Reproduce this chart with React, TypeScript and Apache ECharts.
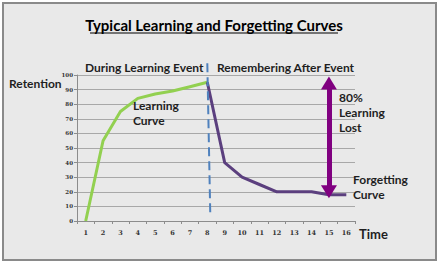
import React, { useEffect, useRef } from "react";
import * as echarts from "echarts";

const categories = ["1","2","3","4","5","6","7","8","9","10","11","12","13","14","15","16"];
const learningCurve = [0, 55, 75, 84, 87, 89, 92, 95, "-", "-", "-", "-", "-", "-", "-", "-"];
const forgettingCurve = ["-", "-", "-", "-", "-", "-", "-", 95, 40, 30, 25, 20, 20, 20, 18, 18];
const yTicks = { min: 0, max: 100, interval: 10 };
const dividerAt = "8";
const dividerSpan = [108, 3];
const lostArrowAt = "15";
const lostArrowSpan = [94.5, 20];

const FONT = "Lato";

export default function App() {
  const ref = useRef<HTMLDivElement>(null);
  useEffect(() => {
    document.body.style.margin = "0";
    const chart = echarts.init(ref.current!, null, { renderer: "svg" });
    const txt = (x: number, y: number, text: string, size: number, extra: any = {}) => ({
      type: "text",
      x,
      y,
      z: 10,
      style: {
        text,
        fontFamily: FONT,
        fontWeight: "bold",
        fontSize: size,
        fill: "#1f1f1f",
        textVerticalAlign: "middle",
        lineHeight: 15,
        ...extra,
      },
    });
    const graphics: any[] = [
      {
        type: "rect",
        z: -100,
        shape: { x: 3, y: 3, width: 433, height: 257 },
        style: { fill: "#e9e9e9", stroke: "#8a8a8a", lineWidth: 2 },
      },
      txt(214, 25, "Typical Learning and Forgetting Curves", 15, { textAlign: "center", fill: "#000" }),
      {
        type: "line",
        z: 10,
        shape: { x1: 90, y1: 33, x2: 338, y2: 33 },
        style: { stroke: "#000", lineWidth: 1.2 },
      },
      txt(85, 67, "During Learning Event", 12),
      txt(217, 67, "Remembering After Event", 12),
      txt(9, 83, "Retention", 12),
      txt(359, 234, "Time", 13),
      txt(133, 113, "Learning\nCurve", 12),
      txt(339, 112, "80%\nLearning\nLost", 12),
      txt(353, 187, "Forgetting\nCurve", 12),
    ];
    chart.setOption({
      animation: false,
      backgroundColor: "#ffffff",
      grid: { left: 77, right: 84, top: 75, bottom: 42 },
      xAxis: {
        type: "category",
        data: categories,
        boundaryGap: true,
        axisLine: { lineStyle: { color: "#8c8c8c", width: 1 } },
        axisTick: { show: true, length: 3, lineStyle: { color: "#8c8c8c" } },
        axisLabel: { fontSize: 6.5, color: "#333", margin: 8, fontFamily: "DejaVu Serif", fontWeight: "bold" },
      },
      yAxis: {
        type: "value",
        min: yTicks.min,
        max: yTicks.max,
        interval: yTicks.interval,
        axisLine: { show: true, lineStyle: { color: "#8c8c8c", width: 1 } },
        axisTick: { show: true, length: 3, lineStyle: { color: "#8c8c8c" } },
        axisLabel: { fontSize: 5.5, color: "#333", margin: 4, fontFamily: "DejaVu Serif", fontWeight: "bold" },
        splitLine: { lineStyle: { color: "#a8a8a8", width: 1 } },
      },
      graphic: graphics,
      series: [
        {
          name: "Learning",
          type: "line",
          data: learningCurve,
          symbol: "none",
          lineStyle: { color: "#92d050", width: 3 },
        },
        {
          name: "Forgetting",
          type: "line",
          data: forgettingCurve,
          symbol: "none",
          lineStyle: { color: "#5b3f7e", width: 3 },
          markLine: {
            silent: true,
            symbol: ["triangle", "triangle"],
            symbolSize: [16, 13],
            label: { show: false },
            lineStyle: { color: "#800080", width: 5, type: "solid" },
            itemStyle: { color: "#800080" },
            data: [[{ coord: [lostArrowAt, lostArrowSpan[0]] }, { coord: [lostArrowAt, lostArrowSpan[1]] }]],
          },
        },
      ],
    });
    const top = chart.convertToPixel({ gridIndex: 0 }, [dividerAt, dividerSpan[0]]) as number[];
    const bottom = chart.convertToPixel({ gridIndex: 0 }, [dividerAt, dividerSpan[1]]) as number[];
    chart.setOption({
      graphic: [
        ...graphics,
        {
          type: "line",
          z: 5,
          shape: { x1: top[0], y1: top[1], x2: bottom[0] + 3, y2: bottom[1] },
          style: { stroke: "#4f81bd", lineWidth: 2, lineDash: [9, 5] },
        },
      ],
    });
    return () => chart.dispose();
  }, []);
  return <div ref={ref} style={{ width: 439, height: 263 }} />;
}
